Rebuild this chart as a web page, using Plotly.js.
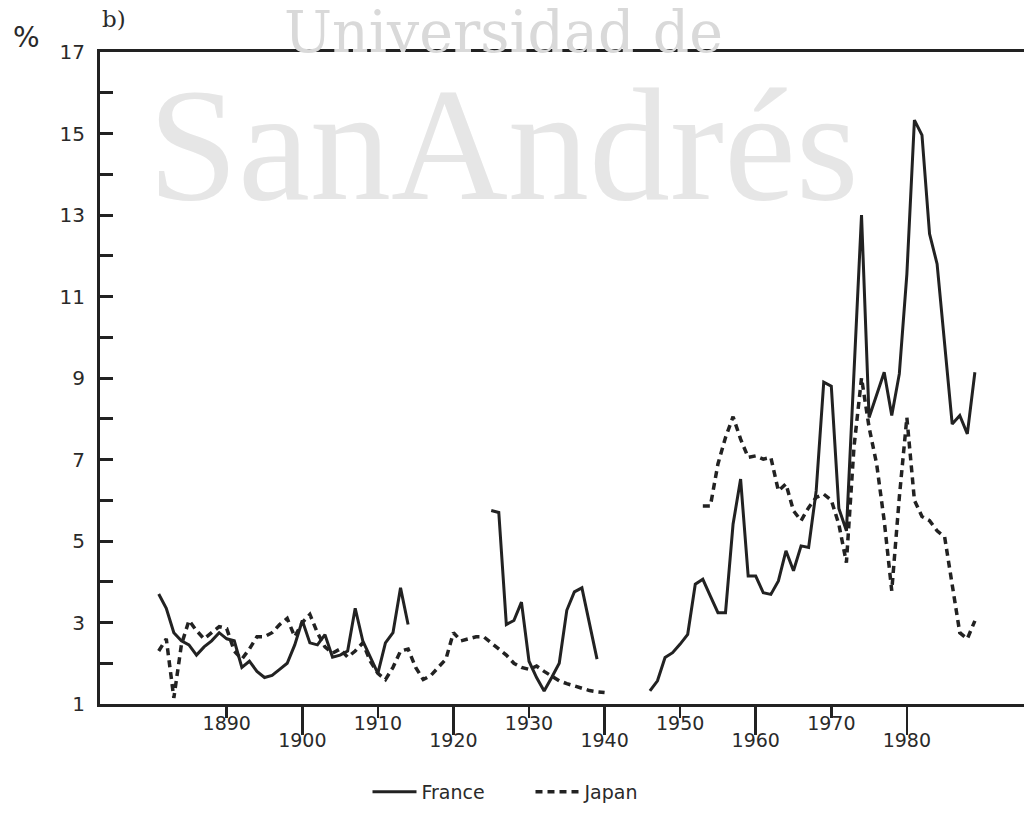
<!DOCTYPE html>
<html>
<head>
<meta charset="utf-8">
<script src="https://cdn.plot.ly/plotly-3.0.1.min.js"></script>
<style>
  html, body { margin: 0; padding: 0; background: #ffffff; }
  #chart { width: 1026px; height: 814px; }
</style>
</head>
<body>
<div id="chart"></div>
<script>
// ---- Data ----
const franceYears = [
  1881,1882,1883,1884,1885,1886,1887,1888,1889,1890,
  1891,1892,1893,1894,1895,1896,1897,1898,1899,1900,
  1901,1902,1903,1904,1905,1906,1907,1908,1909,1910,
  1911,1912,1913,1914, null,
  1925,1926,1927,1928,1929,1930,1931,1932,1933,1934,
  1935,1936,1937,1938,1939, null,
  1946,1947,1948,1949,1950,1951,1952,1953,1954,1955,
  1956,1957,1958,1959,1960,1961,1962,1963,1964,1965,
  1966,1967,1968,1969,1970,1971,1972,1973,1974,1975,
  1976,1977,1978,1979,1980,1981,1982,1983,1984,1985,
  1986,1987,1988,1989
];
const franceValues = [
  3.70,3.35,2.75,2.55,2.45,2.20,2.40,2.55,2.75,2.60,
  2.55,1.90,2.05,1.80,1.65,1.70,1.85,2.00,2.45,3.05,
  2.50,2.45,2.70,2.15,2.20,2.30,3.35,2.55,2.15,1.75,
  2.50,2.75,3.85,2.95, null,
  5.75,5.70,2.95,3.05,3.50,2.05,1.65,1.32,1.65,2.00,
  3.30,3.75,3.85,2.95,2.10, null,
  1.32,1.57,2.14,2.26,2.47,2.71,3.94,4.06,3.65,3.24,
  3.24,5.41,6.52,4.14,4.14,3.73,3.69,4.02,4.76,4.27,
  4.88,4.84,6.23,8.90,8.80,5.80,5.25,9.30,13.00,8.03,
  8.60,9.14,8.08,9.10,11.55,15.33,14.96,12.54,11.80,9.80,
  7.87,8.08,7.63,9.14
];
const japanYears = [
  1881,1882,1883,1884,1885,1886,1887,1888,1889,1890,
  1891,1892,1893,1894,1895,1896,1897,1898,1899,1900,
  1901,1902,1903,1904,1905,1906,1907,1908,1909,1910,
  1911,1912,1913,1914,1915,1916,1917,1918,1919,1920,
  1921,1922,1923,1924,1925,1926,1927,1928,1929,1930,
  1931,1932,1933,1934,1935,1936,1937,1938,1939,1940, null,
  1953,1954,1955,1956,1957,1958,1959,1960,1961,1962,
  1963,1964,1965,1966,1967,1968,1969,1970,1971,1972,
  1973,1974,1975,1976,1977,1978,1979,1980,1981,1982,
  1983,1984,1985,1986,1987,1988,1989
];
const japanValues = [
  2.30,2.60,1.15,2.45,3.05,2.80,2.60,2.75,2.90,2.85,
  2.30,2.10,2.35,2.65,2.65,2.75,2.95,3.10,2.65,3.00,
  3.20,2.75,2.40,2.25,2.35,2.15,2.30,2.50,2.05,1.75,
  1.60,1.90,2.30,2.35,1.90,1.60,1.70,1.90,2.10,2.75,
  2.55,2.60,2.65,2.65,2.50,2.35,2.20,2.00,1.90,1.85,
  1.93,1.80,1.68,1.57,1.50,1.44,1.38,1.33,1.30,1.28, null,
  5.86,5.86,6.89,7.54,8.05,7.50,7.05,7.09,7.01,7.05,
  6.23,6.40,5.74,5.50,5.82,6.07,6.15,6.00,5.41,4.47,
  7.30,9.00,7.79,6.89,5.50,3.78,6.07,8.03,6.00,5.60,
  5.50,5.25,5.10,3.90,2.75,2.60,3.04
];
const xTicksUpper = [1890,1910,1930,1950,1970];
const xTicksLower = [1900,1920,1940,1960,1980];
const yTickVals = [1,2,3,4,5,6,7,8,9,10,11,12,13,14,15,16,17];
const yTickText = ['1','','3','','5','','7','','9','','11','','13','','15','','17'];
const seriesNames = ['France','Japan'];

// ---- Chart ----
const ink = '#222222';
const xRange = [1873.23, 1995.5];
const tickFont = {family: 'DejaVu Sans, sans-serif', size: 19, color: '#2a2a2a'};

const traces = [
  {
    x: franceYears, y: franceValues, name: seriesNames[0],
    type: 'scatter', mode: 'lines', connectgaps: false,
    xaxis: 'x', yaxis: 'y',
    line: {color: ink, width: 3}
  },
  {
    x: japanYears, y: japanValues, name: seriesNames[1],
    type: 'scatter', mode: 'lines', connectgaps: false,
    xaxis: 'x2', yaxis: 'y',
    line: {color: ink, width: 3.5, dash: '7px,5px'}
  }
];

const watermark =
  '<span style="font-family:\'DejaVu Serif\',serif;font-size:57px;color:#d9d9d9">Universidad de</span><br>' +
  '<span style="font-family:\'Liberation Serif\',serif;font-size:162px;color:#e6e6e6">SanAndrés</span>';

const layout = {
  width: 1026, height: 814,
  paper_bgcolor: '#ffffff', plot_bgcolor: '#ffffff',
  margin: {l: 100, r: 2, t: 52, b: 110},
  showlegend: true,
  legend: {
    orientation: 'h', x: 0.2895, y: -0.135, xanchor: 'left', yanchor: 'middle',
    font: {family: 'DejaVu Sans, sans-serif', size: 19, color: '#2a2a2a'},
    itemwidth: 44, entrywidth: 104, entrywidthmode: 'pixels', tracegroupgap: 0
  },
  xaxis: {
    range: xRange, tickmode: 'array', tickvals: xTicksUpper,
    ticktext: xTicksUpper.map(String),
    ticks: 'outside', ticklen: 11, tickwidth: 2.5, tickcolor: ink,
    showline: true, linewidth: 3, linecolor: ink, mirror: true,
    showgrid: false, zeroline: false, tickfont: tickFont,
    ticklabelstandoff: -11
  },
  xaxis2: {
    range: xRange, overlaying: 'x', anchor: 'y', side: 'bottom',
    tickmode: 'array', tickvals: xTicksLower,
    ticktext: xTicksLower.map(String),
    ticks: 'outside', ticklen: 30, tickwidth: 2.5, tickcolor: ink,
    showline: false, showgrid: false, zeroline: false, tickfont: tickFont,
    ticklabelstandoff: -11
  },
  yaxis: {
    range: [1, 17], tickmode: 'array', tickvals: yTickVals, ticktext: yTickText,
    ticks: 'inside', ticklen: 13, tickwidth: 3, tickcolor: ink,
    showline: true, linewidth: 3, linecolor: ink,
    showgrid: false, zeroline: false,
    tickfont: {family: 'DejaVu Sans, sans-serif', size: 20, color: '#2a2a2a'},
    ticklabelstandoff: 8
  },
  annotations: [
    {text: watermark, xref: 'paper', yref: 'paper', x: 0.437, y: 1.085,
     xanchor: 'center', yanchor: 'top', align: 'center', showarrow: false,
     font: {family: 'Liberation Serif, serif', size: 113, color: '#e6e6e6'}},
    {text: '%', xref: 'paper', yref: 'paper', x: -0.080, y: 1.022,
     xanchor: 'center', yanchor: 'middle', showarrow: false,
     font: {family: 'DejaVu Sans, sans-serif', size: 28, color: '#2a2a2a'}},
    {text: 'b)', xref: 'paper', yref: 'paper', x: 0.015, y: 1.05,
     xanchor: 'center', yanchor: 'middle', showarrow: false,
     font: {family: 'DejaVu Serif, serif', size: 23, color: '#2a2a2a'}}
  ]
};

Plotly.newPlot('chart', traces, layout, {displayModeBar: false, staticPlot: true});
</script>
</body>
</html>
